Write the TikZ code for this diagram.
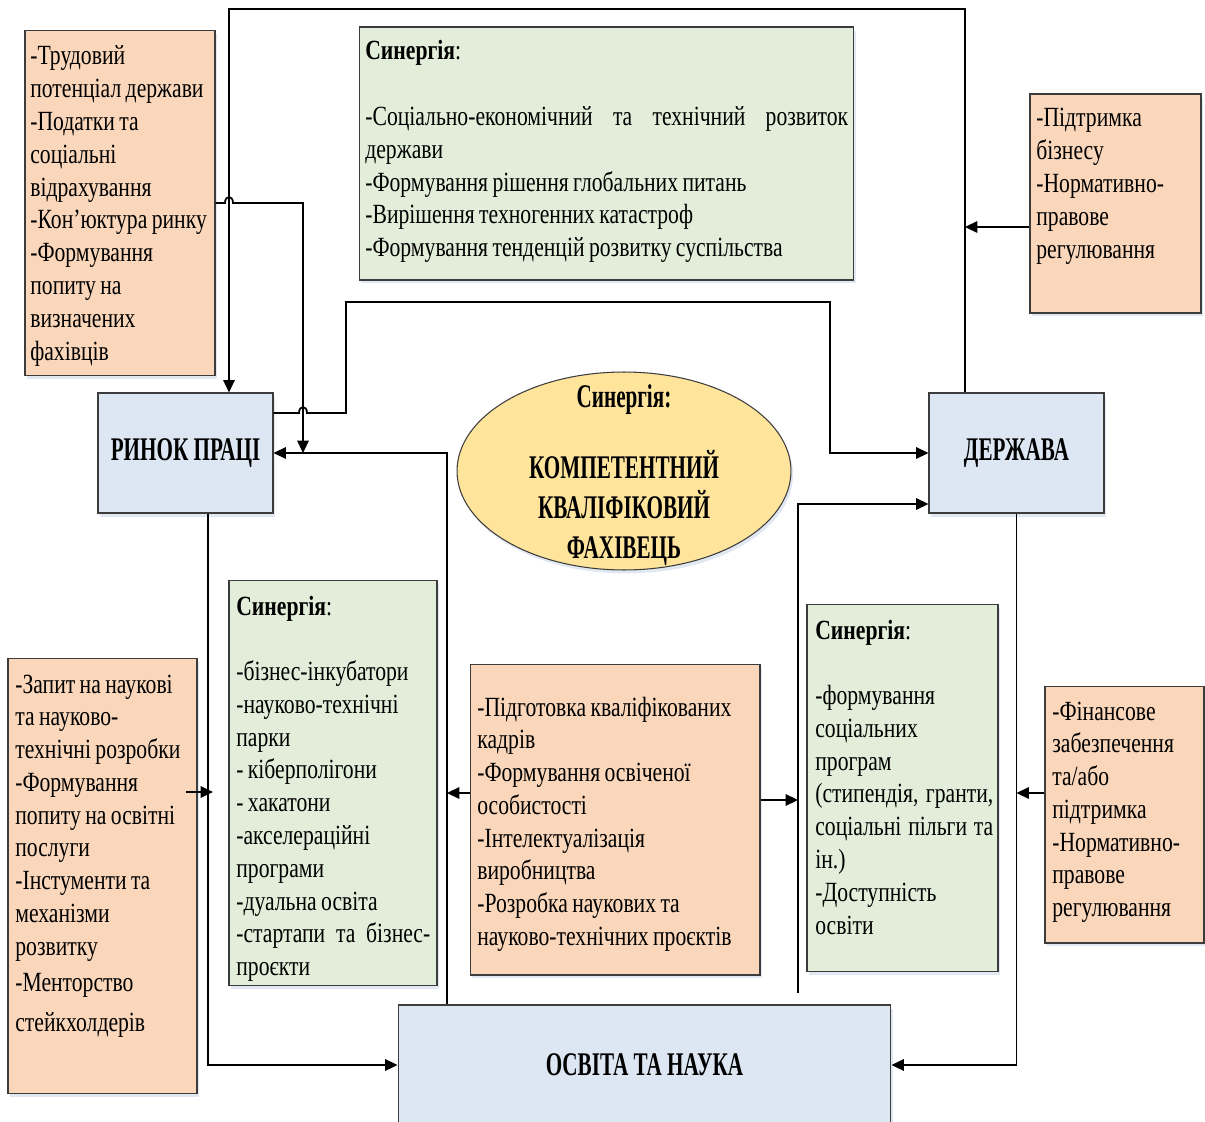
\documentclass[tikz,border=0pt]{standalone}
\usepackage{fontspec}
\setmainfont{Liberation Serif}[FakeStretch=0.78]
\newfontfamily\headfont{Liberation Serif}[FakeStretch=0.64]
\usetikzlibrary{arrows.meta,shadows,shapes.geometric}

\definecolor{peach}{HTML}{FAD6BA}
\definecolor{sage}{HTML}{E2EED9}
\definecolor{pale}{HTML}{DDE7F3}
\definecolor{sand}{HTML}{FFE49C}
\definecolor{edge}{HTML}{3C3C3C}
\definecolor{shade}{RGB}{140,165,205}

% a line stretched to the full text width
\newcommand{\jline}[1]{\makebox[\linewidth][s]{#1}}
% narrow interword spacing of the body text
\newcommand{\tightspaces}{\spaceskip=2.5pt plus 3pt minus 0.5pt\xspaceskip=\spaceskip}

\begin{document}
\begin{tikzpicture}[x=0.02cm,y=-0.02cm,
  box/.style={draw=edge, line width=0.6pt, inner sep=0pt,
    drop shadow={shadow xshift=1.2pt, shadow yshift=-2pt, opacity=0.25, fill=shade}},
  peachbox/.style={box, fill=peach},
  sagebox/.style={box, fill=sage},
  palebox/.style={box, fill=pale, font=\headfont\bfseries\fontsize{18.8pt}{22pt}\selectfont},
  body/.style={anchor=base west, inner sep=0pt, align=left,
    font=\fontsize{15.8pt}{18.66pt}\selectfont},
  conn/.style={line width=1pt, draw=black},
  tip/.style={-{Triangle[length=7pt,width=6.5pt]}},
]
\useasboundingbox (0,0) rectangle (1205,1122);

% ---------- boxes ----------
\node[peachbox, minimum width=3.8cm, minimum height=6.92cm] (tlo) at (120,203) {};
\node[sagebox, minimum width=9.9cm, minimum height=5.06cm] (tg) at (606.5,153.5) {};
\node[peachbox, minimum width=3.42cm, minimum height=4.38cm] (tro) at (1115.5,203.5) {};
\node[palebox, minimum width=3.5cm, minimum height=2.4cm] (rp) at (185.5,453) {РИНОК ПРАЦІ};
\node[palebox, minimum width=3.5cm, minimum height=2.4cm] (dz) at (1016.5,453) {ДЕРЖАВА};
\node[ellipse, draw=edge, line width=0.6pt, fill=sand, inner sep=0pt,
  minimum width=6.68cm, minimum height=3.96cm,
  drop shadow={shadow xshift=1.2pt, shadow yshift=-2pt, opacity=0.25, fill=shade}] (kf) at (624,471) {};
\node[sagebox, minimum width=4.16cm, minimum height=8.12cm] (lg) at (333,783) {};
\node[peachbox, minimum width=3.78cm, minimum height=8.72cm] (blo) at (102.5,876) {};
\node[peachbox, minimum width=5.8cm, minimum height=6.22cm] (co) at (615,819.5) {};
\node[sagebox, minimum width=3.82cm, minimum height=7.36cm] (rg) at (902.5,788) {};
\node[peachbox, minimum width=3.18cm, minimum height=5.14cm] (ro) at (1124.5,814.5) {};
\node[palebox, minimum width=9.86cm, minimum height=2.4cm] (osv) at (644.5,1065) {ОСВІТА ТА НАУКА};

% ---------- box texts ----------
\node[body, text width=5cm] (tlot) at (30,65) {\tightspaces -Трудовий\\ потенціал держави\\ -Податки та\\ соціальні\\ відрахування\\ -Кон’юктура ринку\\ -Формування\\ попиту на\\ визначених\\ фахівців};

\node[body, text width=9.66cm] (tgt) at (365,60) {\tightspaces \textbf{Синергія}:\\ ~\\ \jline{-Соціально-економічний та технічний розвиток}\\ держави\\ -Формування рішення глобальних питань\\ -Вирішення техногенних катастроф\\ -Формування тенденцій розвитку суспільства};

\node[body, text width=5cm] (trot) at (1036,127) {\tightspaces -Підтримка\\ бізнесу\\ -Нормативно-\\ правове\\ регулювання};

\node[anchor=base, inner sep=0pt, align=center, text width=6cm,
  font=\headfont\bfseries\fontsize{18.8pt}{22.8pt}\selectfont] (kft) at (624,407)
  {Синергія:\\[18pt] КОМПЕТЕНТНИЙ\\ КВАЛІФІКОВИЙ\\ ФАХІВЕЦЬ};

\node[body, text width=3.88cm] (lgt) at (236,615) {\tightspaces \textbf{Синергія}:\\ ~\\ -бізнес-інкубатори\\ -науково-технічні\\ парки\\ - кіберполігони\\ - хакатони\\ -акселераційні\\ програми\\ -дуальна освіта\\ \jline{-стартапи та бізнес-}\\ проєкти};

\node[body, text width=5cm] (blot) at (15,693) {\tightspaces -Запит на наукові\\ та науково-\\ технічні розробки\\ -Формування\\ попиту на освітні\\ послуги\\ -Інстументи та\\ механізми\\ розвитку\\[2pt] -Менторство\\[4pt] стейкхолдерів};

\node[body, text width=7cm] (cot) at (477,716) {\tightspaces -Підготовка кваліфікованих\\ кадрів\\ -Формування освіченої\\ особистості\\ -Інтелектуалізація\\ виробництва\\ -Розробка наукових та\\ науково-технічних проєктів};

\node[body, text width=3.56cm] (rgt) at (815,639) {\tightspaces \textbf{Синергія}:\\ ~\\ -формування\\ соціальних\\ програм\\ \jline{(стипендія, гранти,}\\ \jline{соціальні пільги та}\\ ін.)\\ -Доступність\\ освіти};

\node[body, text width=5cm] (rot) at (1052,720) {\tightspaces -Фінансове\\ забезпечення\\ та/або\\ підтримка\\ -Нормативно-\\ правове\\ регулювання};

% ---------- connectors ----------
% state back round the top to the labour market
\draw[conn, line width=0.8pt, tip] (dz.north -| 965,0) -- (965,9) -- (229,9) -- (rp.north -| 229,0);
% labour market factors, hopping over the loop
\draw[conn, tip] (tlo.east) -- (225,203) .. controls (225,195) and (233,195) .. (233,203)
  -- (303,203) -- (rp.east -| 303,0);
% labour market to state
\draw[conn, tip] (rp.east |- 0,413) -- (299,413) .. controls (299,405) and (307,405) .. (307,413)
  -- (346,413) -- (346,302) -- (830,302) -- (830,453) -- (dz.west);
% education to labour market
\draw[conn, tip] (osv.north -| 447,0) -- (447,453) -- (rp.east);
% labour market and state down to education
\draw[conn, tip] (rp.south -| 208,0) |- (osv.west);
\draw[conn, tip] (dz.south) |- (osv.east);
% riser into the state
\coordinate (v) at (798,993);
\draw[conn, tip] (v) |- (dz.west |- 0,504);
% side arrows
\draw[conn, tip] (co.east |- 0,800) -- (v |- 0,800);
\draw[conn, tip] (co.west |- 0,793) -- (447,793);
\coordinate (b) at (186,792);
\draw[conn, tip] (b) -- (213,792);
\draw[conn, tip] (ro.west |- 0,793) -- (dz.south |- 0,793);
\draw[conn, tip] (tro.west |- 0,227) -- (965,227);
\end{tikzpicture}
\end{document}
